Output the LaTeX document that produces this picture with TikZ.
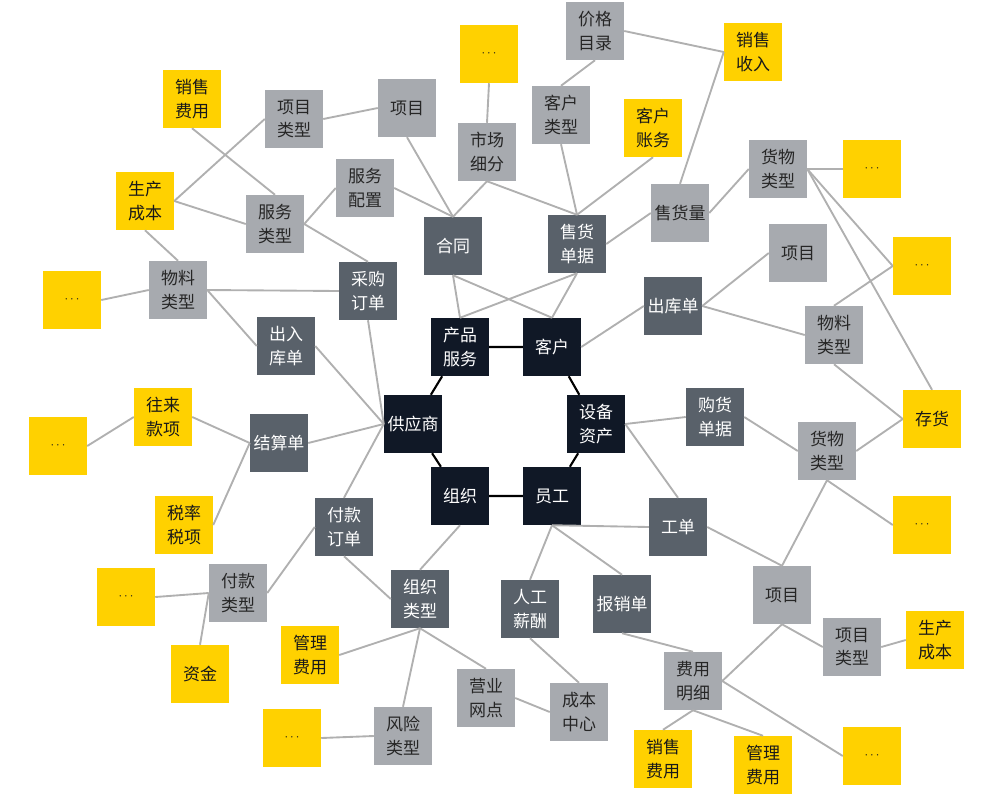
\documentclass[tikz,border=0pt]{standalone}
\usepackage{fontspec}
\setmainfont{Noto Sans CJK SC}
\usepackage{tikz}
\definecolor{erpCore}{RGB}{16,24,38}
\definecolor{erpDoc}{RGB}{89,97,106}
\definecolor{erpType}{RGB}{167,170,175}
\definecolor{erpAcct}{RGB}{255,209,0}
\definecolor{erpLink}{RGB}{176,176,176}
\NewDocumentCommand{\more}{}{{\fontsize{11}{11}\selectfont$\cdots$}}
\tikzset{/ERP/S/box/.style={
	shape=rectangle, minimum size=1.74cm, inner sep=0, align=center,
	font=\fontsize{14.5}{20}\selectfont
}}
\tikzset{/ERP/S/core/.style={/ERP/S/box, fill=erpCore, text=white}}
\tikzset{/ERP/S/doc/.style={/ERP/S/box, fill=erpDoc, text=white}}
\tikzset{/ERP/S/type/.style={/ERP/S/box, fill=erpType, text=black!85}}
\tikzset{/ERP/S/acct/.style={/ERP/S/box, fill=erpAcct, text=black!90}}
\tikzset{/ERP/S/link/.style={draw=erpLink, line width=1.6pt}}
\tikzset{/ERP/S/ring/.style={draw=black, line width=1.8pt}}

\begin{document}
\begin{tikzpicture}[x=0.03cm, y=-0.03cm]
				\useasboundingbox (0,0) rectangle (987,803);
				% core ring
				\path (460,347) node[/ERP/S/core] (prod) {产品\\服务};
				\path (prod.center) ++ (92,0) node[/ERP/S/core] (cust) {客户};
				\path (596,424) node[/ERP/S/core] (asset) {设备\\资产};
				\path (552,496) node[/ERP/S/core] (staff) {员工};
				\path (staff.center) ++ (-92,0) node[/ERP/S/core] (org) {组织};
				\path (413,424) node[/ERP/S/core] (supp) {供应商};
				% documents
				\path (453,246) node[/ERP/S/doc] (contract) {合同};
				\path (577,244) node[/ERP/S/doc] (sales) {售货\\单据};
				\path (368,291) node[/ERP/S/doc] (purch) {采购\\订单};
				\path (286,346) node[/ERP/S/doc] (inout) {出入\\库单};
				\path (673,306) node[/ERP/S/doc] (outb) {出库单};
				\path (279,443) node[/ERP/S/doc] (settle) {结算单};
				\path (344,527) node[/ERP/S/doc] (payord) {付款\\订单};
				\path (420,599) node[/ERP/S/doc] (orgtype) {组织\\类型};
				\path (715,417) node[/ERP/S/doc] (buydoc) {购货\\单据};
				\path (678,527) node[/ERP/S/doc] (workord) {工单};
				\path (530,609) node[/ERP/S/doc] (labor) {人工\\薪酬};
				\path (622,604) node[/ERP/S/doc] (reimb) {报销单};
				% master data
				\path (294,119) node[/ERP/S/type] (projtypeA) {项目\\类型};
				\path (407,108) node[/ERP/S/type] (projA) {项目};
				\path (275,224) node[/ERP/S/type] (servtype) {服务\\类型};
				\path (365,188) node[/ERP/S/type] (servcfg) {服务\\配置};
				\path (487,152) node[/ERP/S/type] (market) {市场\\细分};
				\path (178,290) node[/ERP/S/type] (matA) {物料\\类型};
				\path (595,31) node[/ERP/S/type] (price) {价格\\目录};
				\path (561,115) node[/ERP/S/type] (custtype) {客户\\类型};
				\path (680,213) node[/ERP/S/type] (volume) {售货量};
				\path (778,169) node[/ERP/S/type] (goodsA) {货物\\类型};
				\path (798,253) node[/ERP/S/type] (projB) {项目};
				\path (834,335) node[/ERP/S/type] (matB) {物料\\类型};
				\path (827,451) node[/ERP/S/type] (goodsB) {货物\\类型};
				\path (782,595) node[/ERP/S/type] (projC) {项目};
				\path (852,647) node[/ERP/S/type] (projtypeB) {项目\\类型};
				\path (693,681) node[/ERP/S/type] (costdet) {费用\\明细};
				\path (579,712) node[/ERP/S/type] (costctr) {成本\\中心};
				\path (486,698) node[/ERP/S/type] (branch) {营业\\网点};
				\path (238,593) node[/ERP/S/type] (paytype) {付款\\类型};
				\path (403,736) node[/ERP/S/type] (risk) {风险\\类型};
				% accounts
				\path (192,99) node[/ERP/S/acct] (sellexpA) {销售\\费用};
				\path (145,201) node[/ERP/S/acct] (prodcostA) {生产\\成本};
				\path (489,54) node[/ERP/S/acct] (moreA) {\more};
				\path (72,300) node[/ERP/S/acct] (moreB) {\more};
				\path (753,52) node[/ERP/S/acct] (revenue) {销售\\收入};
				\path (653,128) node[/ERP/S/acct] (custacct) {客户\\账务};
				\path (872,169) node[/ERP/S/acct] (moreC) {\more};
				\path (922,266) node[/ERP/S/acct] (moreD) {\more};
				\path (932,419) node[/ERP/S/acct] (stock) {存货};
				\path (922,525) node[/ERP/S/acct] (moreE) {\more};
				\path (935,640) node[/ERP/S/acct] (prodcostB) {生产\\成本};
				\path (663,759) node[/ERP/S/acct] (sellexpB) {销售\\费用};
				\path (763,765) node[/ERP/S/acct] (mgmtexpB) {管理\\费用};
				\path (872,756) node[/ERP/S/acct] (moreF) {\more};
				\path (163,417) node[/ERP/S/acct] (dealings) {往来\\款项};
				\path (58,446) node[/ERP/S/acct] (moreG) {\more};
				\path (184,525) node[/ERP/S/acct] (tax) {税率\\税项};
				\path (126,597) node[/ERP/S/acct] (moreH) {\more};
				\path (200,674) node[/ERP/S/acct] (funds) {资金};
				\path (310,655) node[/ERP/S/acct] (mgmtexpA) {管理\\费用};
				\path (292,738) node[/ERP/S/acct] (moreI) {\more};
				% ring
				\draw[/ERP/S/ring] (prod) -- (cust) -- (asset) -- (staff) -- (org) -- (supp) -- (prod);
				% links
				\foreach \a/\b in {sellexpA.south/servtype.north, prodcostA.east/projtypeA.west,
					projtypeA.east/projA.west, prodcostA.east/servtype.west, prodcostA.south/matA.north,
					servtype.east/servcfg.west, servtype.east/purch.north, servcfg.east/contract.north,
					projA.south/contract.north, market.south/contract.north, moreA.south/market.north,
					market.south/sales.north, custtype.south/sales.north, custtype.north/price.south,
					custacct.south/sales.north, price.east/revenue.west, revenue.west/volume.north,
					sales.east/volume.west, volume.east/goodsA.west, goodsA.east/moreC.west,
					goodsA.east/moreD.west, goodsA.east/stock.north, matB.north/moreD.west,
					outb.east/projB.west, outb.east/matB.west, cust.east/outb.west,
					matB.south/stock.west, stock.west/goodsB.east, buydoc.east/goodsB.west,
					asset.east/buydoc.west, asset.east/workord.north, staff.south/workord.west,
					workord.east/projC.north, goodsB.south/projC.north, goodsB.south/moreE.west,
					staff.south/labor.north, staff.south/reimb.north, labor.south/costctr.north,
					branch.east/costctr.west, orgtype.south/branch.north, reimb.south/costdet.north,
					projC.south/costdet.east, projC.south/projtypeB.west, projtypeB.east/prodcostB.west,
					costdet.south/sellexpB.north, costdet.south/mgmtexpB.north, costdet.east/moreF.west,
					matA.west/moreB.east, matA.east/purch.west, matA.east/inout.west,
					purch.south/supp.west, inout.east/supp.west, contract.south/prod.north,
					contract.south/cust.north, sales.south/prod.north, sales.south/cust.north,
					settle.east/supp.west, settle.west/dealings.east, dealings.west/moreG.east,
					settle.west/tax.east, payord.north/supp.west, payord.west/paytype.east,
					paytype.west/moreH.east, paytype.west/funds.north, payord.south/orgtype.west,
					org.south/orgtype.north, orgtype.south/mgmtexpA.east, orgtype.south/risk.north,
					risk.west/moreI.east}
					\draw[/ERP/S/link] (\a) -- (\b);
			\end{tikzpicture}
\end{document}
